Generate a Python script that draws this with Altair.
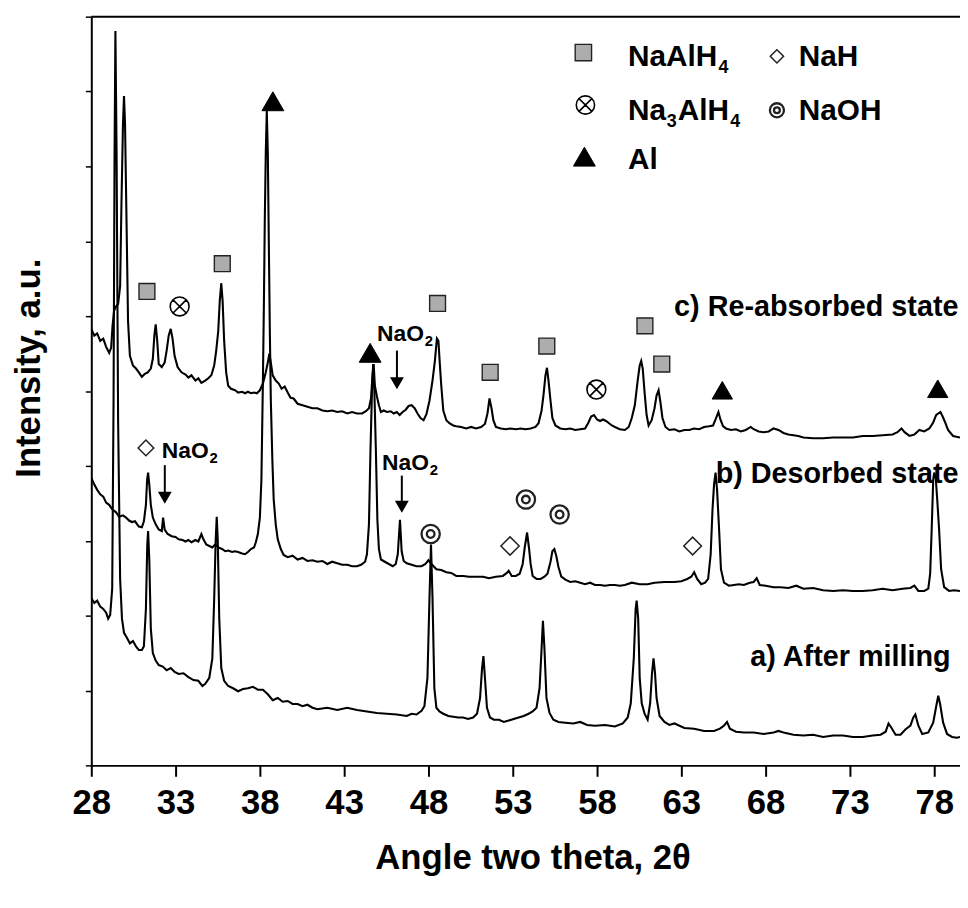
import altair as alt
import pandas as pd

FONT = "Liberation Sans"

# ---------------- trace a) After milling (2theta, intensity a.u.) ----------------
a_tt = [28.00, 28.18, 28.35, 28.53, 28.71, 28.88, 29.00, 29.12, 29.24, 29.32, 29.38, 29.43, 29.50, 29.59, 29.71,
        29.82, 29.94, 30.12, 30.29, 30.47, 30.65, 30.82, 31.00, 31.12, 31.24, 31.32, 31.37, 31.44, 31.53, 31.65,
        31.82, 32.00, 32.24, 32.47, 32.71, 32.94, 33.18, 33.47, 33.76, 34.06, 34.35, 34.59, 34.76, 35.00, 35.18,
        35.29, 35.38, 35.44, 35.50, 35.59, 35.71, 35.88, 36.12, 36.41, 36.71, 37.00, 37.29, 37.59, 37.88, 38.18,
        38.47, 38.76, 39.06, 39.35, 39.65, 39.94, 40.24, 40.53, 40.82, 41.12, 41.41, 42.00, 42.59, 43.18, 43.76,
        44.35, 44.94, 45.53, 46.12, 46.71, 47.00, 47.29, 47.59, 47.76, 47.94, 48.06, 48.15, 48.24, 48.35, 48.47,
        48.65, 48.88, 49.18, 49.47, 49.76, 50.06, 50.35, 50.65, 50.88, 51.06, 51.18, 51.26, 51.35, 51.47, 51.65,
        51.88, 52.18, 52.47, 52.76, 53.06, 53.35, 53.65, 53.94, 54.18, 54.41, 54.59, 54.71, 54.79, 54.88, 55.00,
        55.18, 55.41, 55.71, 56.12, 56.59, 57.00, 57.41, 57.88, 58.47, 59.06, 59.53, 59.82, 60.00, 60.18, 60.29,
        60.35, 60.44, 60.53, 60.65, 60.82, 61.00, 61.15, 61.26, 61.35, 61.44, 61.53, 61.71, 62.00, 62.29, 62.59,
        63.18, 63.76, 64.35, 64.94, 65.29, 65.53, 65.71, 65.88, 66.24, 66.71, 67.29, 67.88, 68.47, 68.76, 69.06,
        69.65, 70.24, 70.82, 71.41, 72.00, 72.59, 73.18, 73.76, 74.35, 74.82, 75.12, 75.29, 75.47, 75.71, 76.00,
        76.29, 76.59, 76.76, 76.88, 77.06, 77.29, 77.65, 77.94, 78.12, 78.24, 78.35, 78.53, 78.76, 79.06, 79.35,
        79.53]
a_int = [2.23, 2.17, 2.20, 2.12, 2.09, 2.04, 1.96, 2.01, 2.36, 4.87, 8.19, 9.81, 8.19, 4.61, 2.49,
         1.96, 1.77, 1.70, 1.63, 1.66, 1.59, 1.54, 1.54, 1.59, 2.09, 2.95, 3.13, 2.75, 1.83, 1.50,
         1.40, 1.34, 1.32, 1.27, 1.30, 1.25, 1.22, 1.23, 1.18, 1.14, 1.13, 1.06, 1.09, 1.17, 1.43,
         2.23, 3.02, 3.32, 3.02, 1.96, 1.30, 1.13, 1.06, 1.03, 0.99, 1.02, 1.03, 1.05, 1.01, 1.01,
         0.95, 0.87, 0.90, 0.85, 0.86, 0.82, 0.82, 0.79, 0.81, 0.77, 0.75, 0.77, 0.74, 0.77, 0.74,
         0.72, 0.70, 0.69, 0.68, 0.66, 0.69, 0.68, 0.73, 0.79, 1.17, 2.23, 2.95, 2.23, 1.03, 0.77,
         0.72, 0.69, 0.66, 0.65, 0.64, 0.64, 0.62, 0.64, 0.69, 0.90, 1.30, 1.46, 1.17, 0.77, 0.64,
         0.61, 0.61, 0.58, 0.60, 0.62, 0.64, 0.66, 0.69, 0.72, 0.77, 1.03, 1.56, 1.93, 1.56, 0.90,
         0.70, 0.61, 0.58, 0.57, 0.56, 0.58, 0.54, 0.53, 0.54, 0.52, 0.56, 0.64, 0.83, 1.43, 2.09,
         2.20, 1.96, 1.17, 0.83, 0.69, 0.61, 0.83, 1.23, 1.43, 1.23, 0.90, 0.66, 0.58, 0.54, 0.56,
         0.50, 0.49, 0.46, 0.46, 0.49, 0.53, 0.58, 0.49, 0.45, 0.44, 0.44, 0.42, 0.44, 0.46, 0.44,
         0.41, 0.40, 0.41, 0.38, 0.40, 0.40, 0.38, 0.38, 0.40, 0.41, 0.45, 0.56, 0.50, 0.41, 0.41,
         0.48, 0.53, 0.64, 0.68, 0.53, 0.42, 0.44, 0.57, 0.79, 0.93, 0.82, 0.57, 0.42, 0.38, 0.37,
         0.38]

# ---------------- trace b) Desorbed state ----------------
b_tt = [28.00, 28.18, 28.35, 28.53, 28.71, 28.88, 29.06, 29.24, 29.47, 29.65, 29.88, 30.06, 30.24, 30.41, 30.59,
        30.82, 31.00, 31.12, 31.24, 31.31, 31.37, 31.44, 31.53, 31.65, 31.82, 32.00, 32.18, 32.26, 32.35, 32.53,
        32.76, 33.00, 33.18, 33.41, 33.59, 33.76, 33.94, 34.18, 34.35, 34.53, 34.65, 34.82, 35.00, 35.18, 35.35,
        35.53, 35.76, 35.94, 36.12, 36.35, 36.53, 36.71, 36.94, 37.12, 37.29, 37.47, 37.65, 37.76, 37.88, 38.00,
        38.09, 38.18, 38.24, 38.29, 38.35, 38.41, 38.47, 38.53, 38.59, 38.65, 38.74, 38.82, 38.94, 39.06, 39.24,
        39.41, 39.65, 39.94, 40.24, 40.53, 40.82, 41.12, 41.41, 41.71, 42.00, 42.29, 42.59, 42.88, 43.18, 43.47,
        43.76, 44.00, 44.24, 44.35, 44.47, 44.56, 44.65, 44.72, 44.79, 44.88, 44.97, 45.06, 45.18, 45.41, 45.65,
        45.88, 46.06, 46.18, 46.31, 46.41, 46.53, 46.71, 47.00, 47.29, 47.59, 47.82, 48.00, 48.18, 48.47, 48.76,
        49.06, 49.35, 49.65, 50.06, 50.41, 50.82, 51.24, 51.59, 52.00, 52.41, 52.65, 52.76, 52.94, 53.18, 53.41,
        53.59, 53.71, 53.85, 53.97, 54.06, 54.18, 54.41, 54.65, 54.88, 55.06, 55.24, 55.35, 55.47, 55.59, 55.71,
        55.88, 56.12, 56.41, 56.71, 57.00, 57.29, 57.59, 57.88, 58.18, 58.47, 58.76, 59.06, 59.35, 59.65, 60.06,
        60.53, 61.00, 61.41, 62.00, 62.59, 63.00, 63.35, 63.59, 63.76, 63.94, 64.18, 64.41, 64.59, 64.74, 64.85,
        64.94, 65.03, 65.12, 65.24, 65.35, 65.53, 65.82, 66.12, 66.41, 66.71, 67.06, 67.29, 67.47, 67.65, 68.00,
        68.47, 68.88, 69.35, 69.82, 70.24, 70.82, 71.41, 72.00, 72.59, 73.18, 73.76, 74.35, 74.94, 75.53, 76.12,
        76.59, 76.82, 77.06, 77.41, 77.65, 77.76, 77.85, 77.94, 78.00, 78.09, 78.18, 78.29, 78.41, 78.59, 78.88,
        79.18, 79.53]
b_int = [3.84, 3.75, 3.68, 3.62, 3.59, 3.51, 3.48, 3.42, 3.38, 3.32, 3.34, 3.31, 3.27, 3.25, 3.26,
         3.19, 3.18, 3.26, 3.48, 3.81, 3.91, 3.75, 3.48, 3.31, 3.22, 3.15, 3.13, 3.31, 3.15, 3.09,
         3.06, 3.05, 3.02, 3.01, 2.99, 3.01, 2.98, 3.01, 2.99, 3.09, 3.02, 2.95, 2.93, 2.91, 2.95,
         2.91, 2.89, 2.86, 2.87, 2.85, 2.86, 2.85, 2.83, 2.82, 2.85, 2.89, 2.91, 2.98, 3.09, 3.31,
         3.81, 5.14, 6.20, 7.26, 8.19, 8.74, 8.19, 6.99, 5.80, 4.87, 4.08, 3.55, 3.22, 3.02, 2.89,
         2.81, 2.78, 2.80, 2.75, 2.77, 2.73, 2.74, 2.72, 2.73, 2.69, 2.72, 2.70, 2.68, 2.68, 2.66,
         2.66, 2.68, 2.72, 2.82, 3.22, 4.21, 5.01, 5.36, 5.01, 4.21, 3.28, 2.89, 2.75, 2.72, 2.69,
         2.66, 2.69, 2.82, 3.28, 2.86, 2.73, 2.70, 2.68, 2.66, 2.66, 2.69, 2.74, 2.69, 2.62, 2.61,
         2.58, 2.57, 2.53, 2.53, 2.52, 2.52, 2.52, 2.50, 2.52, 2.53, 2.57, 2.60, 2.53, 2.53, 2.56,
         2.69, 2.91, 3.11, 2.89, 2.69, 2.53, 2.49, 2.49, 2.52, 2.56, 2.72, 2.86, 2.89, 2.79, 2.65,
         2.52, 2.48, 2.45, 2.46, 2.44, 2.42, 2.44, 2.41, 2.41, 2.40, 2.41, 2.41, 2.40, 2.41, 2.44,
         2.42, 2.42, 2.44, 2.45, 2.45, 2.46, 2.49, 2.52, 2.58, 2.49, 2.42, 2.44, 2.49, 2.82, 3.42,
         3.75, 3.91, 3.68, 3.15, 2.62, 2.44, 2.40, 2.41, 2.42, 2.41, 2.44, 2.45, 2.50, 2.41, 2.40,
         2.38, 2.38, 2.37, 2.40, 2.36, 2.37, 2.34, 2.33, 2.34, 2.33, 2.33, 2.34, 2.36, 2.34, 2.36,
         2.37, 2.40, 2.33, 2.33, 2.36, 2.56, 3.15, 3.81, 3.91, 3.84, 3.55, 3.15, 2.62, 2.38, 2.33,
         2.34, 2.33]

# ---------------- trace c) Re-absorbed state ----------------
c_tt = [28.00, 28.18, 28.35, 28.53, 28.71, 28.88, 29.06, 29.18, 29.26, 29.35, 29.47, 29.59, 29.71, 29.79, 29.88,
        29.94, 30.00, 30.09, 30.18, 30.29, 30.47, 30.65, 30.82, 31.00, 31.18, 31.35, 31.53, 31.65, 31.74, 31.82,
        31.91, 32.00, 32.18, 32.35, 32.47, 32.59, 32.71, 32.82, 32.94, 33.12, 33.35, 33.59, 33.76, 33.94, 34.18,
        34.35, 34.53, 34.76, 34.94, 35.12, 35.29, 35.41, 35.53, 35.62, 35.71, 35.79, 35.88, 36.00, 36.12, 36.29,
        36.53, 36.71, 36.94, 37.12, 37.29, 37.47, 37.65, 37.82, 38.00, 38.18, 38.35, 38.47, 38.56, 38.65, 38.76,
        38.94, 39.12, 39.29, 39.47, 39.65, 39.82, 40.00, 40.24, 40.53, 40.82, 41.12, 41.41, 41.71, 42.00, 42.29,
        42.59, 42.88, 43.18, 43.47, 43.76, 44.06, 44.29, 44.47, 44.59, 44.68, 44.75, 44.82, 44.94, 45.06, 45.18,
        45.35, 45.53, 45.76, 45.94, 46.12, 46.29, 46.47, 46.65, 46.82, 47.00, 47.18, 47.35, 47.53, 47.71, 47.88,
        48.06, 48.24, 48.38, 48.50, 48.59, 48.68, 48.76, 48.88, 49.06, 49.24, 49.47, 49.65, 49.94, 50.24, 50.53,
        50.82, 51.12, 51.35, 51.50, 51.62, 51.74, 51.85, 52.00, 52.29, 52.59, 52.88, 53.18, 53.47, 53.76, 54.06,
        54.35, 54.53, 54.71, 54.82, 54.94, 55.03, 55.12, 55.24, 55.35, 55.53, 55.82, 56.12, 56.41, 56.71, 57.00,
        57.29, 57.47, 57.65, 57.82, 58.00, 58.18, 58.35, 58.53, 58.71, 58.88, 59.06, 59.35, 59.65, 59.88, 60.06,
        60.24, 60.41, 60.53, 60.62, 60.71, 60.82, 60.94, 61.06, 61.24, 61.41, 61.53, 61.65, 61.76, 61.88, 62.06,
        62.29, 62.59, 62.88, 63.18, 63.47, 63.76, 64.06, 64.35, 64.65, 64.88, 65.03, 65.20, 65.32, 65.47, 65.65,
        65.94, 66.24, 66.53, 66.82, 67.12, 67.29, 67.59, 67.88, 68.18, 68.47, 68.76, 69.06, 69.35, 69.65, 69.94,
        70.24, 70.82, 71.41, 72.00, 72.59, 73.18, 73.76, 74.35, 74.94, 75.53, 75.82, 76.06, 76.24, 76.53, 76.82,
        77.12, 77.41, 77.71, 77.94, 78.12, 78.37, 78.50, 78.65, 78.82, 79.12, 79.53]
c_int = [5.83, 5.74, 5.77, 5.67, 5.70, 5.59, 5.51, 5.58, 5.87, 6.07, 6.13, 6.16, 6.40, 7.52, 8.58,
         8.94, 8.58, 7.26, 5.93, 5.47, 5.34, 5.30, 5.25, 5.19, 5.23, 5.25, 5.30, 5.43, 5.74, 5.89,
         5.67, 5.36, 5.32, 5.38, 5.54, 5.74, 5.83, 5.70, 5.47, 5.32, 5.25, 5.22, 5.18, 5.21, 5.14,
         5.17, 5.11, 5.14, 5.17, 5.21, 5.34, 5.54, 5.80, 6.20, 6.44, 6.20, 5.67, 5.25, 5.07, 5.03,
         5.01, 4.98, 4.99, 4.97, 4.99, 4.97, 4.98, 4.97, 5.01, 5.10, 5.25, 5.38, 5.50, 5.38, 5.21,
         5.14, 5.10, 5.03, 5.06, 4.98, 4.91, 4.90, 4.83, 4.81, 4.79, 4.77, 4.77, 4.74, 4.73, 4.74,
         4.72, 4.73, 4.70, 4.72, 4.70, 4.70, 4.73, 4.77, 4.90, 5.21, 5.36, 5.07, 4.93, 4.81, 4.72,
         4.74, 4.72, 4.73, 4.70, 4.72, 4.68, 4.72, 4.75, 4.80, 4.81, 4.77, 4.70, 4.64, 4.61, 4.69,
         4.87, 5.14, 5.40, 5.70, 5.67, 5.34, 5.07, 4.74, 4.61, 4.57, 4.54, 4.53, 4.52, 4.50, 4.52,
         4.50, 4.52, 4.56, 4.70, 4.90, 4.77, 4.61, 4.52, 4.50, 4.49, 4.50, 4.49, 4.50, 4.49, 4.50,
         4.52, 4.57, 4.74, 4.94, 5.21, 5.31, 5.14, 4.87, 4.64, 4.54, 4.50, 4.49, 4.50, 4.48, 4.49,
         4.50, 4.57, 4.66, 4.68, 4.62, 4.60, 4.62, 4.60, 4.57, 4.54, 4.52, 4.49, 4.48, 4.52, 4.64,
         4.81, 5.14, 5.34, 5.40, 5.30, 4.98, 4.68, 4.54, 4.61, 4.77, 4.94, 5.01, 4.85, 4.64, 4.52,
         4.48, 4.49, 4.46, 4.48, 4.48, 4.50, 4.49, 4.52, 4.53, 4.54, 4.62, 4.72, 4.62, 4.53, 4.50,
         4.48, 4.49, 4.46, 4.48, 4.52, 4.49, 4.46, 4.45, 4.46, 4.50, 4.48, 4.44, 4.42, 4.41, 4.40,
         4.38, 4.37, 4.37, 4.38, 4.38, 4.38, 4.40, 4.40, 4.41, 4.42, 4.45, 4.50, 4.45, 4.40, 4.42,
         4.48, 4.46, 4.50, 4.58, 4.68, 4.72, 4.66, 4.58, 4.48, 4.40, 4.38]

# ---------------- annotations ----------------
trace_labels = ["c) Re-absorbed state", "b) Desorbed state", "a) After milling"]
trace_label_tt = [79.44, 79.44, 78.97]
trace_label_int = [6.00, 3.775, 1.325]

# legend texts (main parts) and their subscripts
legend_labels = ["NaAlH", "Na", "AlH", "Al", "NaH", "NaOH"]
legend_label_tt = [59.84, 59.84, 62.79, 59.84, 69.97, 69.97]
legend_label_int = [9.34, 8.62, 8.62, 7.96, 9.34, 8.62]
legend_sub = ["4", "3", "4"]
legend_sub_tt = [65.20, 62.14, 65.90]
legend_sub_int = [9.34, 8.62, 8.62]

nao2_labels = ["NaO", "NaO", "NaO"]
nao2_tt = [32.18, 44.95, 45.25]
nao2_int = [4.11, 5.67, 3.95]
nao2_sub = ["2", "2", "2"]
nao2_sub_tt = [35.01, 47.78, 48.08]

arrow_tt = [32.36, 46.13, 46.42]
arrow_top = [4.01, 5.54, 3.87]
arrow_bottom = [3.62, 5.16, 3.49]
arrow_head = [3.58, 5.11, 3.46]

# phase markers (on chart + legend) : 2theta, intensity, symbol size
square_tt = [31.30, 35.77, 48.54, 51.66, 55.02, 60.84, 61.84, 57.19]
square_int = [6.33, 6.70, 6.17, 5.25, 5.60, 5.87, 5.36, 9.52]
square_size = [256, 256, 256, 256, 256, 256, 256, 272]

otimes_tt = [33.24, 57.96, 57.31]
otimes_int = [6.13, 5.02, 8.82]
otimes_size = [361, 361, 340]

triangle_tt = [38.77, 44.54, 65.43, 78.21, 57.25]
triangle_int = [8.87, 5.51, 5.01, 5.03, 8.13]
triangle_size = [484, 484, 420, 420, 484]

dcircle_tt = [48.13, 53.78, 55.78, 68.67]
dcircle_int = [3.09, 3.55, 3.35, 8.75]
dcircle_size = [340, 340, 340, 200]

diamond_tt = [52.84, 63.67, 31.24, 68.67]
diamond_int = [2.93, 2.93, 4.24, 9.47]
diamond_size = [340, 320, 250, 180]

# ---------------- build chart ----------------
rows = []
for name, xs, ys in (("a", a_tt, a_int), ("b", b_tt, b_int), ("c", c_tt, c_int)):
    rows += [{"tt": x, "I": y, "series": name} for x, y in zip(xs, ys)]
traces = pd.DataFrame(rows)

x_scale = alt.Scale(domain=[28, 79.53], nice=False, zero=False)
y_scale = alt.Scale(domain=[0, 10], nice=False)

x_axis = alt.Axis(values=[28, 33, 38, 43, 48, 53, 58, 63, 68, 73, 78], title="Angle two theta, 2θ",
                  labelFont=FONT, labelFontSize=35, labelFontWeight="bold", labelColor="black",
                  labelPadding=10, labelFlush=False, labelOverlap=False,
                  tickSize=11, tickWidth=2, tickColor="black", domainColor="black", domainWidth=2,
                  grid=False, titleFont=FONT, titleFontSize=35, titleFontWeight="bold", titleColor="black",
                  titleX=445, titleY=76, titleBaseline="top")
y_axis = alt.Axis(values=list(range(0, 11)), labels=False, tickSize=6, tickWidth=1.5, tickColor="black",
                  domainColor="black", domainWidth=2, grid=False, title="Intensity, a.u.",
                  titleFont=FONT, titleFontSize=35, titleFontWeight="bold", titleColor="black",
                  titleX=-45, titleY=354, titleAngle=270, titleBaseline="bottom", titleAlign="center")


def X(field="tt"):
    return alt.X(f"{field}:Q", scale=x_scale, axis=x_axis)


def Y(field="I"):
    return alt.Y(f"{field}:Q", scale=y_scale, axis=y_axis)


lines = alt.Chart(traces).mark_line(color="black", strokeWidth=2.1, clip=True).encode(
    x=X(), y=Y(), detail="series:N")

top_border = alt.Chart(pd.DataFrame({"I": [10]})).mark_rule(color="black", strokeWidth=2).encode(y=Y())


def pts(tt, ii, ss):
    return pd.DataFrame({"tt": tt, "I": ii, "s": ss})


def texts(tt, ii, tx):
    return pd.DataFrame({"tt": tt, "I": ii, "t": tx})


squares = alt.Chart(pts(square_tt, square_int, square_size)).mark_point(
    shape="square", filled=True, fill="#adadad", stroke="#222222", strokeWidth=1.4, opacity=1
).encode(x=X(), y=Y(), size=alt.Size("s:Q", scale=None))

otimes = alt.Chart(pts(otimes_tt, otimes_int, otimes_size)).mark_point(
    shape="M-1,0A1,1,0,1,1,1,0A1,1,0,1,1,-1,0Z M-0.7,-0.7L0.7,0.7 M0.7,-0.7L-0.7,0.7",
    filled=False, stroke="black", strokeWidth=1.6, opacity=1
).encode(x=X(), y=Y(), size=alt.Size("s:Q", scale=None))

triangles = alt.Chart(pts(triangle_tt, triangle_int, triangle_size)).mark_point(
    shape="triangle-up", filled=True, fill="black", stroke="black", strokeWidth=1, opacity=1
).encode(x=X(), y=Y(), size=alt.Size("s:Q", scale=None))

dcircles = alt.Chart(pts(dcircle_tt, dcircle_int, dcircle_size)).mark_point(
    shape="M-1,0A1,1,0,1,1,1,0A1,1,0,1,1,-1,0Z M-0.42,0A0.42,0.42,0,1,1,0.42,0A0.42,0.42,0,1,1,-0.42,0Z",
    filled=False, stroke="#222222", strokeWidth=2.3, opacity=1
).encode(x=X(), y=Y(), size=alt.Size("s:Q", scale=None))

diamonds = alt.Chart(pts(diamond_tt, diamond_int, diamond_size)).mark_point(
    shape="diamond", filled=False, stroke="#222222", strokeWidth=1.5, opacity=1
).encode(x=X(), y=Y(), size=alt.Size("s:Q", scale=None))

trace_text = alt.Chart(texts(trace_label_tt, trace_label_int, trace_labels)).mark_text(
    font=FONT, fontSize=29, fontWeight="bold", align="right", baseline="alphabetic", color="black"
).encode(x=X(), y=Y(), text="t:N")

legend_text = alt.Chart(texts(legend_label_tt, legend_label_int, legend_labels)).mark_text(
    font=FONT, fontSize=30, fontWeight="bold", align="left", baseline="alphabetic", color="black"
).encode(x=X(), y=Y(), text="t:N")

legend_sub_text = alt.Chart(texts(legend_sub_tt, legend_sub_int, legend_sub)).mark_text(
    font=FONT, fontSize=18, fontWeight="bold", align="left", baseline="alphabetic", color="black", dy=7
).encode(x=X(), y=Y(), text="t:N")

nao2_text = alt.Chart(texts(nao2_tt, nao2_int, nao2_labels)).mark_text(
    font=FONT, fontSize=23, fontWeight="bold", align="left", baseline="alphabetic", color="black"
).encode(x=X(), y=Y(), text="t:N")

nao2_sub_text = alt.Chart(texts(nao2_sub_tt, nao2_int, nao2_sub)).mark_text(
    font=FONT, fontSize=15, fontWeight="bold", align="left", baseline="alphabetic", color="black", dy=5
).encode(x=X(), y=Y(), text="t:N")

arrow_df = pd.DataFrame({"tt": arrow_tt, "I": arrow_top, "I2": arrow_bottom, "h": arrow_head})
arrow_shafts = alt.Chart(arrow_df).mark_rule(color="black", strokeWidth=2).encode(
    x=X(), y=Y(), y2="I2:Q")
arrow_heads = alt.Chart(arrow_df).mark_point(
    shape="triangle-down", filled=True, fill="black", stroke="black", size=110, opacity=1
).encode(x=X(), y=Y("h"))

chart = alt.layer(
    lines, top_border, arrow_shafts, arrow_heads, squares, otimes, triangles, dcircles, diamonds,
    trace_text, legend_text, legend_sub_text, nao2_text, nao2_sub_text
).properties(
    width=876, height=755,
    autosize=alt.AutoSizeParams(type="none"),
    padding={"left": 84, "top": 5, "right": 0, "bottom": 130},
    background="white",
).configure_view(stroke=None)

chart.save("out.html", embed_options={"renderer": "svg", "actions": False})
